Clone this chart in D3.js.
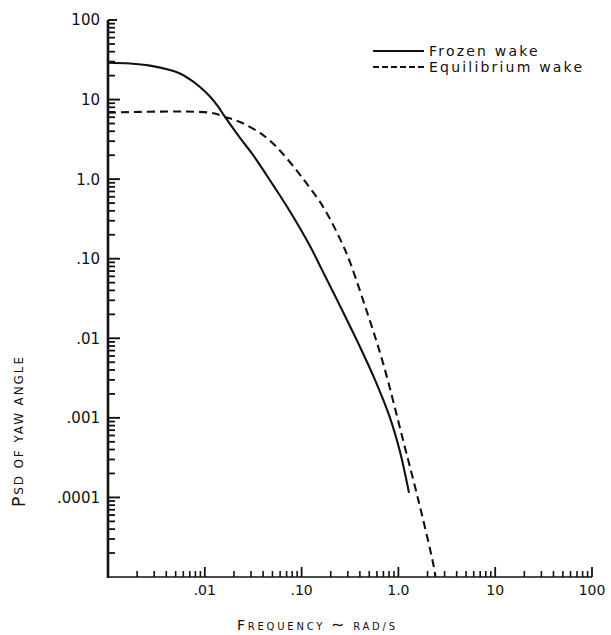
<!DOCTYPE html>
<html>
<head>
<meta charset="utf-8">
<script src="https://cdn.jsdelivr.net/npm/d3@7"></script>
<style>
  html, body { margin: 0; padding: 0; background: #fff; }
  svg { display: block; }
  text { font-family: "DejaVu Sans", sans-serif; fill: #111; }
</style>
</head>
<body>
<svg id="chart" width="611" height="635"></svg>
<script>
// Frequency (rad/s) and PSD of yaw angle for the two wake models
const frozenFreq = [0.001, 0.001688, 0.002716, 0.00437, 0.005544, 0.007033, 0.008922, 0.01131, 0.01369, 0.01617, 0.0231, 0.03147, 0.05064, 0.07589, 0.1221, 0.1624, 0.2615, 0.4012, 0.5733, 0.8191, 1.039, 1.287];
const frozenPsd  = [29.08, 28.41, 26.68, 23.54, 21.28, 17.88, 14.39, 10.94, 8.19, 6.045, 3.293, 2.014, 0.8455, 0.3928, 0.1448, 0.07234, 0.02274, 0.007798, 0.003001, 0.001, 0.000374, 0.0001142];

const equilFreq = [0.001, 0.01131, 0.01617, 0.0231, 0.03718, 0.05064, 0.06426, 0.08965, 0.1137, 0.155, 0.1966, 0.2493, 0.3016, 0.4518, 0.6932, 1.1156, 1.6718, 2.278, 2.418];
const equilPsd  = [6.845, 6.845, 6.045, 5.232, 3.805, 2.809, 2.073, 1.268, 0.8704, 0.5172, 0.3162, 0.1773, 0.1053, 0.02553, 0.004909, 0.000529, 0.0000762, 0.0000151, 0.00001];

const seriesNames = ["Frozen wake", "Equilibrium wake"];
const yTickLabels = ["100", "10", "1.0", ".10", ".01", ".001", ".0001"];
const yTickValues = [100, 10, 1, 0.1, 0.01, 0.001, 0.0001];
const xTickLabels = [".01", ".10", "1.0", "10", "100"];
const xTickValues = [0.01, 0.1, 1, 10, 100];

(function () {
  const svg = d3.select("#chart");
  const mLeft = 108, mRight = 592, mTop = 20, mBottom = 577;
  const ink = "#111";

  const x = d3.scaleLog().domain([0.001, 100]).range([mLeft, mRight]);
  const y = d3.scaleLog().domain([1e-5, 100]).range([mBottom, mTop]);

  // minor tick values: 2..9 in every decade
  function minors(lo, hi) {
    const out = [];
    for (let e = lo; e < hi; e++) {
      for (let m = 2; m <= 9; m++) out.push(m * Math.pow(10, e));
    }
    return out;
  }

  // ---- Y axis: inward ticks, labels on the left ----
  const gy = svg.append("g");
  gy.selectAll("line.ymin").data(minors(-5, 2)).join("line").attr("class", "ymin")
    .attr("x1", mLeft).attr("x2", mLeft + 7)
    .attr("y1", d => y(d)).attr("y2", d => y(d))
    .attr("stroke", ink).attr("stroke-width", 1.8);
  gy.selectAll("line.ymaj").data(yTickValues).join("line").attr("class", "ymaj")
    .attr("x1", mLeft).attr("x2", (d, i) => mLeft + (i === 0 ? 9 : 12))
    .attr("y1", d => y(d)).attr("y2", d => y(d))
    .attr("stroke", ink).attr("stroke-width", 1.9);
  gy.selectAll("text").data(yTickValues).join("text")
    .attr("x", mLeft - 8).attr("y", d => y(d)).attr("dy", "0.36em")
    .attr("text-anchor", "end").attr("font-size", 15)
    .text((d, i) => yTickLabels[i]);

  // ---- X axis: inward ticks, labels below ----
  const gx = svg.append("g");
  gx.selectAll("line.xmin").data(minors(-3, 2)).join("line").attr("class", "xmin")
    .attr("x1", d => x(d)).attr("x2", d => x(d))
    .attr("y1", mBottom).attr("y2", mBottom - 6)
    .attr("stroke", ink).attr("stroke-width", 1.6);
  gx.selectAll("line.xmaj").data(xTickValues).join("line").attr("class", "xmaj")
    .attr("x1", d => x(d)).attr("x2", d => x(d))
    .attr("y1", mBottom).attr("y2", mBottom - 10)
    .attr("stroke", ink).attr("stroke-width", 1.8);
  gx.selectAll("text").data(xTickValues).join("text")
    .attr("x", d => x(d)).attr("y", mBottom + 18)
    .attr("text-anchor", "middle").attr("font-size", 14)
    .text((d, i) => xTickLabels[i]);

  // axis lines
  svg.append("line").attr("x1", mLeft).attr("x2", mLeft).attr("y1", mTop).attr("y2", mBottom + 1)
    .attr("stroke", ink).attr("stroke-width", 2.6);
  svg.append("line").attr("x1", mLeft).attr("x2", x(100)).attr("y1", mBottom).attr("y2", mBottom)
    .attr("stroke", ink).attr("stroke-width", 1.6);

  // ---- Curves ----
  const line = d3.line().x(d => x(d[0])).y(d => y(d[1])).curve(d3.curveCatmullRom.alpha(0.5));
  const frozen = frozenFreq.map((f, i) => [f, frozenPsd[i]]);
  const equil = equilFreq.map((f, i) => [f, equilPsd[i]]);

  svg.append("path").attr("d", line(frozen)).attr("fill", "none")
    .attr("stroke", ink).attr("stroke-width", 2.1);
  svg.append("path").attr("d", line(equil)).attr("fill", "none")
    .attr("stroke", ink).attr("stroke-width", 2.1).attr("stroke-dasharray", "8,5");

  // ---- Legend ----
  const legendRows = [{ y: 51, dash: null }, { y: 67, dash: "6,3" }];
  legendRows.forEach((r, i) => {
    svg.append("line").attr("x1", 373).attr("x2", 424).attr("y1", r.y).attr("y2", r.y)
      .attr("stroke", ink).attr("stroke-width", 1.8)
      .attr("stroke-dasharray", r.dash);
    svg.append("text").attr("x", 429).attr("y", r.y + 5)
      .attr("font-size", 14).attr("letter-spacing", "2.2px")
      .text(seriesNames[i]);
  });

  // ---- Axis titles ----
  const xt = svg.append("text").attr("x", 237).attr("y", 630)
    .attr("textLength", 158).attr("lengthAdjust", "spacing");
  xt.append("tspan").attr("font-size", 14).text("F");
  xt.append("tspan").attr("font-size", 10).text("REQUENCY ");
  xt.append("tspan").attr("font-size", 16).text("∼");
  xt.append("tspan").attr("font-size", 10).text(" RAD/S");

  const yt = svg.append("text").attr("transform", "translate(25,507) rotate(-90)")
    .attr("textLength", 150).attr("lengthAdjust", "spacing");
  yt.append("tspan").attr("font-size", 17).text("P");
  yt.append("tspan").attr("font-size", 12).attr("dy", -2).text("SD OF YAW ANGLE");
})();
</script>
</body>
</html>
